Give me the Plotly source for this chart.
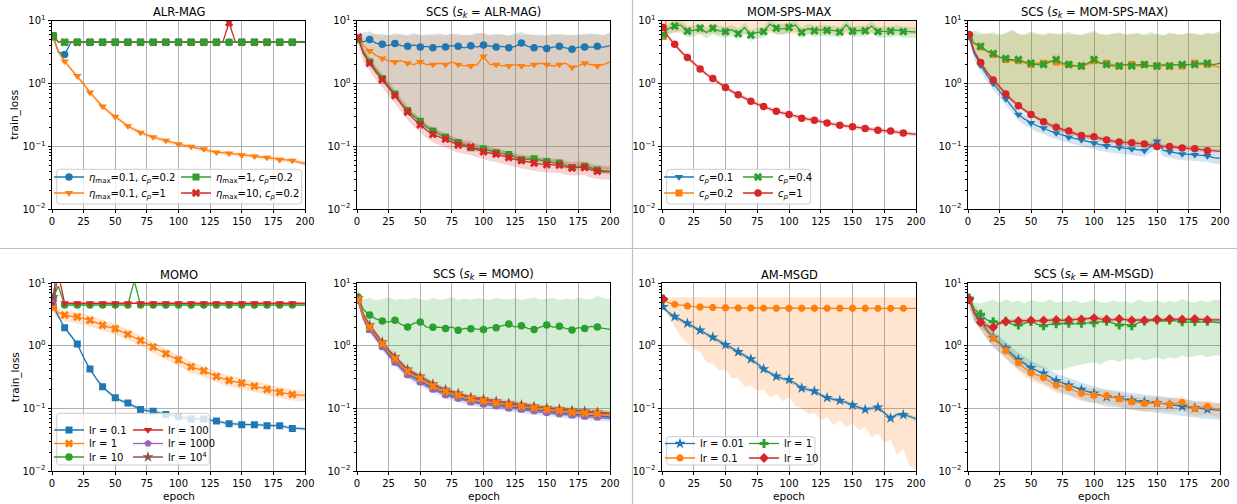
import plotly.graph_objects as go

# ---------------------------------------------------------------- data
EPOCHS = [1] + list(range(5, 201, 5))

# ALR-MAG
ALR_A = [5.5, 3.2, 2.9, 4.5, 4.55, 4.55, 4.55, 4.55, 4.55, 4.55, 4.55,
         4.55, 4.55, 4.55, 4.55, 4.55, 4.55, 4.55, 4.55, 4.55, 4.55,
         4.55, 4.55, 4.55, 4.55, 4.55, 4.55, 4.55, 4.55, 4.55, 4.55,
         4.55, 4.55, 4.55, 4.55, 4.55, 4.55, 4.55, 4.55, 4.55, 4.55]
ALR_B = [5.5, 3.2, 2.25, 1.7, 1.32, 0.98, 0.72, 0.55, 0.43, 0.35, 0.296,
         0.25, 0.21, 0.185, 0.165, 0.15, 0.14, 0.13, 0.123, 0.115, 0.108,
         0.103, 0.099, 0.094, 0.09, 0.085, 0.08, 0.079, 0.077, 0.074, 0.072,
         0.071, 0.069, 0.067, 0.066, 0.063, 0.061, 0.06, 0.059, 0.056, 0.053]
ALR_C = [5.8, 4.55, 4.55, 4.55, 4.55, 4.55, 4.55, 4.55, 4.55, 4.55, 4.55,
         4.55, 4.55, 4.55, 4.55, 4.55, 4.55, 4.55, 4.55, 4.55, 4.55,
         4.55, 4.55, 4.55, 4.55, 4.55, 4.55, 4.55, 4.55, 4.55, 4.55,
         4.55, 4.55, 4.55, 4.55, 4.55, 4.55, 4.55, 4.55, 4.55, 4.55]
ALR_D = [5.6, 4.6, 4.55, 4.55, 4.55, 4.55, 4.55, 4.55, 4.55, 4.55, 4.55,
         4.55, 4.55, 4.55, 4.55, 4.55, 4.55, 4.55, 4.55, 4.55, 4.55,
         4.55, 4.55, 4.55, 4.55, 4.55, 4.55, 4.55, 9.3, 4.55, 4.55,
         4.55, 4.55, 4.55, 4.55, 4.55, 4.55, 4.55, 4.55, 4.65, 4.65]

# SCS (s_k = ALR-MAG)
SCS1_A = [5.0, 4.6, 5.0, 4.4, 4.2, 4.0, 4.35, 4.0, 3.9, 4.1, 3.8,
          3.9, 3.7, 3.9, 3.8, 4.0, 3.9, 3.7, 4.0, 3.8, 4.1,
          3.9, 3.8, 3.9, 3.7, 3.9, 4.4, 3.9, 3.7, 3.9, 3.6,
          3.8, 3.9, 3.7, 3.5, 3.8, 3.8, 3.9, 3.9, 3.8, 4.0]
SCS1_A_HI = [5.5, 6.5, 6.8, 6.0, 6.2, 5.8, 6.3, 6.0, 5.9, 6.4, 5.8,
             6.1, 6.0, 6.3, 5.9, 6.1, 6.2, 5.8, 6.0, 6.4, 6.1,
             5.9, 6.2, 6.0, 5.8, 6.3, 6.6, 6.0, 5.9, 6.1, 5.7,
             6.0, 6.2, 5.9, 5.8, 6.1, 6.0, 6.3, 6.1, 5.9, 6.4]
SCS1_A_LO = [4.5, 3.0, 2.2, 1.6, 1.2, 0.9, 0.68, 0.5, 0.38, 0.3, 0.25,
             0.2, 0.17, 0.15, 0.135, 0.12, 0.11, 0.1, 0.095, 0.09, 0.088,
             0.082, 0.078, 0.075, 0.072, 0.068, 0.064, 0.062, 0.06, 0.058, 0.056,
             0.054, 0.053, 0.051, 0.049, 0.048, 0.047, 0.046, 0.045, 0.044, 0.043]
SCS1_B = [5.6, 4.0, 3.3, 2.8, 2.5, 2.3, 2.2, 2.3, 2.1, 2.0, 2.2,
          2.0, 2.0, 2.1, 2.0, 2.2, 2.0, 1.9, 1.9, 2.0, 2.7,
          2.0, 2.0, 1.9, 1.9, 2.0, 1.9, 1.9, 2.0, 2.1, 2.0,
          1.9, 2.0, 2.1, 1.8, 1.9, 2.1, 2.0, 1.9, 2.0, 2.2]
SCS1_B_HI = [5.8, 5.5, 5.9, 6.2, 5.7, 6.0, 5.8, 6.1, 5.6, 5.9, 6.0,
             5.7, 6.1, 5.8, 5.9, 6.3, 5.7, 6.0, 5.8, 6.1, 6.5,
             5.8, 5.9, 6.0, 5.7, 6.0, 5.8, 6.1, 5.9, 5.7, 6.0,
             6.2, 5.8, 5.9, 6.1, 5.7, 6.2, 5.9, 6.0, 5.8, 6.6]
SCS1_B_LO = [4.6, 3.1, 2.2, 1.6, 1.15, 0.85, 0.65, 0.48, 0.37, 0.29, 0.24,
             0.2, 0.17, 0.15, 0.13, 0.12, 0.11, 0.1, 0.094, 0.09, 0.086,
             0.08, 0.077, 0.074, 0.07, 0.066, 0.063, 0.061, 0.059, 0.057, 0.055,
             0.053, 0.052, 0.05, 0.048, 0.047, 0.046, 0.045, 0.044, 0.043, 0.042]
SCS1_C = [5.0, 3.2, 2.2, 1.6, 1.2, 0.9, 0.68, 0.48, 0.37, 0.3, 0.25,
          0.2, 0.175, 0.155, 0.14, 0.125, 0.115, 0.105, 0.095, 0.092, 0.091,
          0.085, 0.079, 0.076, 0.074, 0.067, 0.061, 0.062, 0.063, 0.06, 0.057,
          0.055, 0.054, 0.05, 0.046, 0.047, 0.048, 0.045, 0.042, 0.041, 0.04]
SCS1_D = [5.5, 3.0, 2.1, 1.5, 1.15, 0.85, 0.64, 0.47, 0.35, 0.27, 0.22,
          0.18, 0.155, 0.14, 0.13, 0.115, 0.105, 0.1, 0.097, 0.088, 0.082,
          0.078, 0.075, 0.07, 0.066, 0.062, 0.059, 0.056, 0.054, 0.052, 0.051,
          0.05, 0.05, 0.047, 0.045, 0.046, 0.046, 0.042, 0.04, 0.039, 0.039]

# MOM-SPS-MAX
MSM_A = [5.6]
MSM_B = [5.6, 15.0, 16.0, 14.5, 15.5, 16.0, 15.0, 14.0, 15.5, 16.5, 15.0,
         14.5, 15.5, 16.0, 15.0, 14.5, 15.5, 15.0, 16.0, 14.5, 15.0,
         15.5, 16.0, 15.0, 14.5, 15.5, 15.0, 16.0, 15.5, 14.5, 15.0,
         15.5, 15.0, 16.0, 14.5, 15.0, 15.5, 15.0, 16.0, 15.5, 15.0]
MSM_B_HI = [12.0, 30.0, 30.0, 30.0, 30.0, 30.0, 30.0, 30.0, 30.0, 30.0, 30.0,
            30.0, 30.0, 30.0, 30.0, 30.0, 30.0, 30.0, 30.0, 30.0, 30.0,
            30.0, 30.0, 30.0, 30.0, 30.0, 30.0, 30.0, 30.0, 30.0, 30.0,
            30.0, 30.0, 30.0, 30.0, 30.0, 30.0, 30.0, 30.0, 30.0, 30.0]
MSM_B_LO = [5.6, 6.2, 6.5, 6.3, 6.0, 6.4, 6.2, 6.1, 6.3, 6.0, 6.2,
            6.4, 6.1, 6.0, 6.3, 6.2, 6.1, 6.4, 6.0, 6.2, 6.3,
            6.1, 6.0, 6.2, 6.4, 6.1, 6.3, 6.0, 6.2, 6.1, 6.0,
            6.3, 6.2, 6.1, 6.4, 6.0, 6.2, 6.1, 6.3, 6.2, 6.1]
MSM_C = [6.0, 7.5, 8.2, 8.5, 6.8, 7.0, 7.6, 6.5, 7.6, 6.9, 6.7,
         7.2, 6.2, 7.8, 5.9, 6.5, 6.7, 8.8, 7.6, 7.4, 7.8,
         8.5, 6.5, 7.5, 6.9, 7.2, 7.0, 7.0, 6.6, 8.6, 6.8,
         7.0, 6.9, 8.2, 6.7, 6.8, 6.8, 7.1, 6.7, 6.7, 6.6]
MSM_D = [7.8, 5.5, 4.2, 3.2, 2.6, 2.1, 1.7, 1.4, 1.2, 1.0, 0.86,
         0.75, 0.66, 0.58, 0.52, 0.47, 0.43, 0.39, 0.36, 0.34, 0.32,
         0.3, 0.28, 0.27, 0.26, 0.245, 0.235, 0.225, 0.215, 0.21, 0.205,
         0.198, 0.192, 0.186, 0.18, 0.178, 0.175, 0.168, 0.163, 0.158, 0.155]

# SCS (s_k = MOM-SPS-MAX)
SCS2_A = [5.5, 3.0, 1.95, 1.35, 1.0, 0.75, 0.57, 0.42, 0.32, 0.27, 0.235,
          0.21, 0.195, 0.175, 0.162, 0.15, 0.139, 0.132, 0.126, 0.118, 0.112,
          0.106, 0.101, 0.098, 0.096, 0.093, 0.09, 0.087, 0.085, 0.098, 0.119,
          0.086, 0.082, 0.078, 0.075, 0.074, 0.073, 0.071, 0.07, 0.066, 0.064]
SCS2_B = [5.8, 4.3, 3.8, 3.2, 2.9, 2.6, 2.4, 2.3, 2.3, 2.1, 2.0,
          2.1, 2.1, 2.3, 2.2, 2.0, 2.0, 1.9, 1.9, 2.0, 2.3,
          2.1, 2.1, 2.0, 1.9, 2.0, 2.0, 1.9, 2.0, 1.9, 1.9,
          1.9, 1.9, 2.0, 1.9, 2.0, 2.1, 2.0, 2.0, 1.9, 1.8]
SCS2_B_HI = [6.0, 6.3, 5.8, 6.4, 6.0, 5.7, 6.2, 6.8, 6.1, 5.9, 6.3,
             6.0, 5.8, 6.2, 6.4, 5.9, 6.1, 6.0, 5.7, 6.2, 6.5,
             6.0, 5.8, 6.1, 6.3, 5.9, 6.0, 6.2, 5.8, 6.1, 6.0,
             5.7, 6.2, 6.0, 5.9, 6.3, 6.1, 5.8, 6.2, 6.0, 6.6]
SCS2_B_LO = [5.0, 2.9, 2.0, 1.4, 1.05, 0.8, 0.62, 0.5, 0.41, 0.34, 0.29,
             0.25, 0.22, 0.2, 0.18, 0.168, 0.158, 0.148, 0.138, 0.132, 0.127,
             0.122, 0.117, 0.112, 0.108, 0.106, 0.104, 0.102, 0.1, 0.098, 0.096,
             0.094, 0.093, 0.091, 0.09, 0.089, 0.088, 0.087, 0.086, 0.085, 0.084]
SCS2_C = [5.5, 4.4, 3.9, 3.3, 3.0, 2.6, 2.5, 2.4, 2.4, 2.2, 2.1,
          2.0, 2.0, 2.2, 2.4, 2.1, 2.0, 1.9, 1.9, 2.1, 2.4,
          2.1, 2.0, 1.9, 1.9, 2.0, 1.9, 2.0, 2.0, 1.9, 1.9,
          2.0, 1.9, 2.0, 2.0, 2.0, 2.0, 2.1, 2.1, 2.0, 2.1]
SCS2_C_HI = [6.2, 7.0, 6.5, 6.1, 6.6, 6.0, 6.4, 7.3, 6.2, 6.0, 6.8,
             6.2, 6.1, 6.5, 6.0, 6.3, 6.6, 6.1, 6.0, 6.4, 6.9,
             6.2, 6.0, 6.3, 6.5, 6.1, 6.2, 6.4, 6.0, 6.6, 6.2,
             5.9, 6.5, 6.1, 6.0, 6.4, 6.3, 6.0, 6.5, 6.2, 7.0]
SCS2_C_LO = [5.1, 3.0, 2.05, 1.45, 1.08, 0.82, 0.64, 0.51, 0.42, 0.35, 0.3,
             0.26, 0.23, 0.205, 0.185, 0.17, 0.16, 0.15, 0.14, 0.134, 0.128,
             0.123, 0.118, 0.113, 0.11, 0.107, 0.105, 0.103, 0.101, 0.099, 0.097,
             0.095, 0.094, 0.092, 0.091, 0.09, 0.089, 0.088, 0.087, 0.086, 0.085]
SCS2_D = [6.0, 3.2, 2.15, 1.5, 1.14, 0.88, 0.68, 0.54, 0.44, 0.37, 0.32,
          0.28, 0.245, 0.22, 0.2, 0.185, 0.175, 0.16, 0.148, 0.145, 0.142,
          0.133, 0.126, 0.121, 0.117, 0.115, 0.114, 0.111, 0.109, 0.104, 0.099,
          0.099, 0.099, 0.096, 0.094, 0.092, 0.091, 0.088, 0.085, 0.084, 0.083]

# MOMO
MOMO_A = [4.2, 3.0, 1.95, 1.45, 1.07, 0.65, 0.425, 0.3, 0.222, 0.18, 0.148,
          0.132, 0.122, 0.108, 0.096, 0.092, 0.09, 0.085, 0.08, 0.077, 0.074,
          0.071, 0.068, 0.068, 0.068, 0.065, 0.063, 0.06, 0.057, 0.056, 0.055,
          0.055, 0.055, 0.054, 0.053, 0.053, 0.053, 0.05, 0.048, 0.048, 0.047]
MOMO_B = [4.0, 3.4, 3.1, 3.0, 2.9, 2.75, 2.56, 2.35, 2.13, 2.0, 1.88,
          1.7, 1.53, 1.38, 1.22, 1.08, 0.96, 0.85, 0.75, 0.67, 0.6,
          0.53, 0.463, 0.43, 0.4, 0.36, 0.325, 0.3, 0.28, 0.265, 0.254,
          0.24, 0.227, 0.213, 0.201, 0.19, 0.182, 0.174, 0.167, 0.165, 0.162]
MOMO_C = [6.0, 9.0, 4.5, 4.5, 4.5, 4.5, 4.5, 4.5, 4.5, 4.5, 4.5,
          4.5, 4.5, 11.0, 4.5, 4.5, 4.5, 4.5, 4.5, 4.5, 4.5,
          4.5, 4.5, 4.5, 4.5, 4.5, 4.5, 4.5, 4.5, 4.5, 4.5,
          4.5, 4.5, 4.5, 4.5, 4.5, 4.5, 4.5, 4.5, 4.5, 4.5]
MOMO_D = [5.0, 14.0, 4.8, 4.8, 4.8, 4.8, 4.8, 4.8, 4.8, 4.8, 4.8,
          4.8, 4.8, 4.8, 4.8, 4.8, 4.8, 4.8, 4.8, 4.8, 4.8,
          4.8, 4.8, 4.8, 4.8, 4.8, 4.8, 4.8, 4.8, 4.8, 4.8,
          4.8, 4.8, 4.8, 4.8, 4.8, 4.8, 4.8, 4.8, 4.8, 4.8]
MOMO_E = [5.5, 30.0]
MOMO_F = [6.0, 25.0]

# SCS (s_k = MOMO)
SCS3_A = [5.3, 2.8, 1.85, 1.35, 1.0, 0.74, 0.57, 0.44, 0.36, 0.31, 0.275,
          0.24, 0.21, 0.19, 0.172, 0.16, 0.151, 0.14, 0.131, 0.126, 0.122,
          0.118, 0.114, 0.109, 0.105, 0.102, 0.1, 0.097, 0.095, 0.092, 0.089,
          0.087, 0.085, 0.083, 0.081, 0.079, 0.078, 0.077, 0.076, 0.074, 0.073]
SCS3_B = [5.5, 3.0, 2.0, 1.45, 1.08, 0.8, 0.62, 0.48, 0.39, 0.34, 0.3,
          0.26, 0.227, 0.205, 0.185, 0.172, 0.163, 0.15, 0.141, 0.136, 0.132,
          0.127, 0.123, 0.118, 0.113, 0.11, 0.108, 0.105, 0.102, 0.099, 0.096,
          0.094, 0.092, 0.09, 0.087, 0.085, 0.084, 0.083, 0.082, 0.08, 0.079]
SCS3_C = [6.0, 3.8, 3.1, 2.7, 2.5, 2.4, 2.56, 2.2, 2.0, 2.3, 2.4,
          2.0, 1.98, 2.0, 1.9, 2.0, 1.77, 1.9, 1.88, 1.85, 1.82,
          1.95, 1.95, 2.1, 2.23, 2.0, 2.1, 1.9, 1.82, 2.0, 2.16,
          2.0, 2.05, 1.9, 1.8, 1.95, 1.9, 2.05, 2.0, 1.9, 1.84]
SCS3_C_HI = [8.0, 5.5, 5.8, 5.3, 5.6, 6.0, 5.4, 5.7, 5.5, 5.9, 5.6,
             5.3, 5.8, 5.5, 5.6, 6.1, 5.4, 5.7, 5.5, 5.8, 5.6,
             5.4, 5.9, 5.6, 5.5, 5.8, 5.4, 5.7, 6.0, 5.5, 5.6,
             5.8, 5.4, 5.7, 5.5, 5.9, 5.6, 5.5, 6.2, 5.7, 5.6]
SCS3_C_LO = [5.0, 3.1, 2.1, 1.5, 1.12, 0.84, 0.66, 0.51, 0.42, 0.36, 0.32,
             0.28, 0.245, 0.22, 0.2, 0.185, 0.176, 0.163, 0.153, 0.147, 0.142,
             0.137, 0.132, 0.127, 0.122, 0.118, 0.115, 0.112, 0.109, 0.106, 0.103,
             0.1, 0.098, 0.096, 0.093, 0.092, 0.091, 0.09, 0.089, 0.087, 0.086]
SCS3_D = [5.6, 3.1, 2.05, 1.48, 1.1, 0.82, 0.63, 0.49, 0.4, 0.35, 0.31,
          0.27, 0.232, 0.21, 0.19, 0.176, 0.166, 0.153, 0.144, 0.139, 0.135,
          0.13, 0.126, 0.12, 0.116, 0.112, 0.11, 0.107, 0.104, 0.101, 0.098,
          0.096, 0.094, 0.092, 0.089, 0.087, 0.086, 0.085, 0.084, 0.082, 0.081]
SCS3_E = [5.2, 2.7, 1.8, 1.3, 0.95, 0.7, 0.54, 0.42, 0.34, 0.29, 0.26,
          0.225, 0.2, 0.18, 0.163, 0.152, 0.143, 0.133, 0.125, 0.12, 0.116,
          0.112, 0.108, 0.104, 0.1, 0.097, 0.095, 0.092, 0.09, 0.087, 0.085,
          0.083, 0.081, 0.079, 0.077, 0.075, 0.074, 0.073, 0.072, 0.07, 0.069]
SCS3_F = [5.8, 3.2, 2.15, 1.55, 1.15, 0.86, 0.67, 0.52, 0.42, 0.37, 0.325,
          0.285, 0.245, 0.22, 0.2, 0.185, 0.174, 0.161, 0.151, 0.146, 0.141,
          0.136, 0.131, 0.126, 0.121, 0.117, 0.114, 0.111, 0.108, 0.105, 0.102,
          0.1, 0.098, 0.096, 0.093, 0.091, 0.09, 0.089, 0.087, 0.085, 0.084]

# AM-MSGD
AM_A = [4.2, 3.4, 2.93, 2.6, 2.29, 2.0, 1.77, 1.55, 1.37, 1.2, 1.04,
        0.92, 0.8, 0.7, 0.615, 0.52, 0.426, 0.37, 0.325, 0.3, 0.287,
        0.25, 0.211, 0.2, 0.189, 0.165, 0.148, 0.14, 0.134, 0.125, 0.113,
        0.105, 0.096, 0.1, 0.104, 0.085, 0.07, 0.08, 0.079, 0.075, 0.068]
AM_B = [5.5, 4.9, 4.6, 4.45, 4.34, 4.25, 4.18, 4.13, 4.1, 4.08, 4.06,
        4.05, 4.04, 4.03, 4.02, 4.02, 4.01, 4.0, 4.0, 4.0, 4.0,
        3.99, 3.99, 3.99, 3.99, 3.98, 3.98, 3.98, 3.98, 3.98, 3.98,
        3.98, 3.98, 3.97, 3.97, 3.97, 3.97, 3.97, 3.97, 3.97, 3.97]
AM_B_HI = [5.8, 5.95, 5.97, 5.97, 5.97, 5.97, 5.97, 5.97, 5.97, 5.97, 5.97,
           5.97, 5.97, 5.97, 5.97, 5.97, 5.97, 5.97, 5.97, 5.97, 5.97,
           5.97, 5.97, 5.97, 5.97, 5.97, 5.97, 5.97, 5.97, 5.97, 5.97,
           5.97, 5.97, 5.97, 5.97, 5.97, 5.97, 5.97, 5.97, 5.97, 5.97]
AM_B_LO = [5.0, 3.0, 2.0, 1.4, 1.1, 0.9, 0.8, 0.55, 0.52, 0.4, 0.42,
           0.3, 0.31, 0.22, 0.23, 0.19, 0.2, 0.15, 0.17, 0.13, 0.15,
           0.11, 0.1, 0.08, 0.085, 0.065, 0.072, 0.055, 0.065, 0.05, 0.058,
           0.045, 0.05, 0.035, 0.04, 0.028, 0.032, 0.018, 0.022, 0.012, 0.0105]
AM_C = [5.6]
AM_D = [5.6]

# SCS (s_k = AM-MSGD)
SCS4_A = [5.5, 3.5, 2.6, 1.8, 1.35, 1.1, 0.91, 0.72, 0.6, 0.52, 0.447,
          0.4, 0.363, 0.32, 0.277, 0.255, 0.235, 0.215, 0.2, 0.185, 0.174,
          0.163, 0.153, 0.15, 0.148, 0.14, 0.135, 0.131, 0.128, 0.125, 0.123,
          0.119, 0.115, 0.111, 0.107, 0.104, 0.102, 0.099, 0.097, 0.095, 0.093]
SCS4_B = [5.5, 3.4, 2.34, 1.7, 1.32, 1.05, 0.836, 0.65, 0.537, 0.44, 0.37,
          0.34, 0.313, 0.27, 0.236, 0.225, 0.214, 0.19, 0.174, 0.168, 0.162,
          0.16, 0.16, 0.15, 0.143, 0.135, 0.128, 0.124, 0.12, 0.121, 0.122,
          0.119, 0.117, 0.12, 0.125, 0.11, 0.1, 0.104, 0.107, 0.1, 0.095]
SCS4_C = [5.8, 3.8, 3.2, 2.6, 2.43, 2.3, 2.47, 2.2, 2.15, 2.3, 2.45,
          2.2, 2.1, 2.2, 2.25, 2.3, 2.3, 2.25, 2.3, 2.35, 2.34,
          2.4, 2.47, 2.3, 2.15, 2.2, 2.1, 2.3, 2.5, 2.55, 2.6,
          2.5, 2.6, 2.5, 2.43, 2.4, 2.45, 2.4, 2.47, 2.4, 2.34]
SCS4_C_HI = [6.0, 5.0, 4.8, 5.2, 5.5, 4.9, 5.6, 5.0, 5.3, 4.8, 5.4,
             5.1, 5.0, 5.6, 4.9, 5.2, 5.0, 5.4, 4.8, 5.1, 5.5,
             5.0, 4.9, 5.3, 5.0, 5.2, 4.8, 5.5, 5.1, 5.0, 5.4,
             4.9, 5.2, 5.0, 5.6, 5.1, 4.9, 5.3, 5.0, 5.4, 5.5]
SCS4_C_LO = [5.0, 2.5, 2.0, 1.6, 1.3, 1.0, 0.8, 0.65, 0.55, 0.5, 0.47,
             0.45, 0.43, 0.42, 0.4, 0.42, 0.45, 0.48, 0.5, 0.52, 0.55,
             0.5, 0.58, 0.6, 0.55, 0.62, 0.6, 0.65, 0.58, 0.62, 0.65,
             0.6, 0.66, 0.63, 0.7, 0.65, 0.68, 0.72, 0.66, 0.7, 0.7]
SCS4_D = [5.5, 3.3, 2.38, 2.1, 1.98, 2.3, 2.43, 2.45, 2.5, 2.5, 2.55,
          2.5, 2.55, 2.6, 2.6, 2.55, 2.6, 2.6, 2.65, 2.7, 2.78,
          2.7, 2.65, 2.6, 2.7, 2.6, 2.55, 2.6, 2.55, 2.6, 2.65,
          2.6, 2.7, 2.65, 2.65, 2.7, 2.7, 2.65, 2.6, 2.6, 2.6]

TITLES = ["ALR-MAG", "SCS (<i>s</i><sub><i>k</i></sub> = ALR-MAG)",
          "MOM-SPS-MAX", "SCS (<i>s</i><sub><i>k</i></sub> = MOM-SPS-MAX)",
          "MOMO", "SCS (<i>s</i><sub><i>k</i></sub> = MOMO)",
          "AM-MSGD", "SCS (<i>s</i><sub><i>k</i></sub> = AM-MSGD)"]

ALR_LABELS = ["<i>η</i><sub>max</sub>=0.1, <i>c</i><sub><i>p</i></sub>=0.2",
              "<i>η</i><sub>max</sub>=0.1, <i>c</i><sub><i>p</i></sub>=1",
              "<i>η</i><sub>max</sub>=1, <i>c</i><sub><i>p</i></sub>=0.2",
              "<i>η</i><sub>max</sub>=10, <i>c</i><sub><i>p</i></sub>=0.2"]
MSM_LABELS = ["<i>c</i><sub><i>p</i></sub>=0.1", "<i>c</i><sub><i>p</i></sub>=0.2",
              "<i>c</i><sub><i>p</i></sub>=0.4", "<i>c</i><sub><i>p</i></sub>=1"]
MOMO_LABELS = ["lr = 0.1", "lr = 1", "lr = 10", "lr = 100", "lr = 1000", "lr = 10<sup>4</sup>"]
AM_LABELS = ["lr = 0.01", "lr = 0.1", "lr = 1", "lr = 10"]

X_TICKS = [0, 25, 50, 75, 100, 125, 150, 175, 200]
Y_TICKS = [0.01, 0.1, 1, 10]
Y_TICK_TEXT = ["10<sup>−2</sup>", "10<sup>−1</sup>", "10<sup>0</sup>", "10<sup>1</sup>"]

# ---------------------------------------------------------------- styling
W, H = 1237, 504
FONT = "DejaVu Sans"
C0, C1, C2, C3, C4, C5 = "#1f77b4", "#ff7f0e", "#2ca02c", "#d62728", "#9467bd", "#8c564b"
COL_PX = [(52, 305), (357, 610), (662, 916), (968, 1220)]
ROW_PX = [(20.7, 209.0), (283.3, 471.0)]


def px_x(p):
    return p / W


def px_y(p):
    return 1 - p / H


def rgba(hex_color, a):
    h = hex_color.lstrip("#")
    r, g, b = int(h[0:2], 16), int(h[2:4], 16), int(h[4:6], 16)
    return f"rgba({r},{g},{b},{a})"


def S(values, color, symbol, label=None, spread=None, lo=None, hi=None, slot=None, size=7.5):
    return dict(values=values, color=color, symbol=symbol, label=label,
                spread=spread, lo=lo, hi=hi, slot=slot, size=size)


# Each panel: series in drawing order, legend column marker x (px), legend row y (px), frame box
PANELS = [
    dict(series=[S(ALR_A, C0, "circle", ALR_LABELS[0], spread=0.03, slot=(0, 0)),
                 S(ALR_B, C1, "triangle-down", ALR_LABELS[1], spread=0.08, slot=(0, 1)),
                 S(ALR_D, C3, "x", ALR_LABELS[3], spread=0.03, slot=(1, 1)),
                 S(ALR_C, C2, "square", ALR_LABELS[2], spread=0.03, slot=(1, 0), size=7)],
         leg_cols=[69, 196], leg_rows=[177, 193], frame=(56.7, 169.3, 301.7, 204)),
    dict(series=[S(SCS1_A, C0, "circle", lo=SCS1_A_LO, hi=SCS1_A_HI),
                 S(SCS1_B, C1, "triangle-down", lo=SCS1_B_LO, hi=SCS1_B_HI),
                 S(SCS1_C, C2, "square", spread=0.12, size=7),
                 S(SCS1_D, C3, "x", spread=0.25)]),
    dict(series=[S(MSM_A, C0, "triangle-down", MSM_LABELS[0], slot=(0, 0)),
                 S(MSM_B, C1, "square", MSM_LABELS[1], lo=MSM_B_LO, hi=MSM_B_HI, slot=(0, 1), size=7),
                 S(MSM_C, C2, "x", MSM_LABELS[2], spread=0.2, slot=(1, 0)),
                 S(MSM_D, C3, "circle", MSM_LABELS[3], spread=0.08, slot=(1, 1))],
         leg_cols=[679, 758], leg_rows=[177, 193], frame=(666.7, 169.3, 810.7, 204)),
    dict(series=[S(SCS2_A, C0, "triangle-down", spread=0.2),
                 S(SCS2_B, C1, "square", lo=SCS2_B_LO, hi=SCS2_B_HI, size=7),
                 S(SCS2_C, C2, "x", lo=SCS2_C_LO, hi=SCS2_C_HI),
                 S(SCS2_D, C3, "circle", spread=0.08)]),
    dict(series=[S(MOMO_A, C0, "square", MOMO_LABELS[0], spread=0.06, slot=(0, 0), size=7),
                 S(MOMO_B, C1, "x", MOMO_LABELS[1], spread=0.2, slot=(0, 1)),
                 S(MOMO_C, C2, "circle", MOMO_LABELS[2], spread=0.03, slot=(0, 2)),
                 S(MOMO_D, C3, "triangle-down", MOMO_LABELS[3], spread=0.03, slot=(1, 0)),
                 S(MOMO_E, C4, "pentagon", MOMO_LABELS[4], slot=(1, 1)),
                 S(MOMO_F, C5, "star", MOMO_LABELS[5], slot=(1, 2), size=8.5)],
         leg_cols=[69, 148], leg_rows=[430, 443.5, 457], frame=(56.7, 413.3, 209.3, 465)),
    dict(series=[S(SCS3_A, C0, "square", spread=0.1, size=7),
                 S(SCS3_C, C2, "circle", lo=SCS3_C_LO, hi=SCS3_C_HI),
                 S(SCS3_E, C4, "pentagon", spread=0.12),
                 S(SCS3_F, C5, "star", spread=0.1, size=8.5),
                 S(SCS3_D, C3, "triangle-down", spread=0.1),
                 S(SCS3_B, C1, "x", spread=0.1)]),
    dict(series=[S(AM_A, C0, "star", AM_LABELS[0], spread=0.08, slot=(0, 0), size=8.5),
                 S(AM_B, C1, "octagon", AM_LABELS[1], lo=AM_B_LO, hi=AM_B_HI, slot=(0, 1)),
                 S(AM_C, C2, "cross", AM_LABELS[2], slot=(1, 0)),
                 S(AM_D, C3, "diamond", AM_LABELS[3], slot=(1, 1))],
         leg_cols=[680, 764], leg_rows=[443.5, 458], frame=(666.7, 436.7, 815, 465)),
    dict(series=[S(SCS4_A, C0, "star", spread=0.3, size=8.5),
                 S(SCS4_B, C1, "octagon", spread=0.25),
                 S(SCS4_C, C2, "cross", lo=SCS4_C_LO, hi=SCS4_C_HI),
                 S(SCS4_D, C3, "diamond", spread=0.08)]),
]


def marker_colors(xs, color):
    return [color if (e == 1 or (e % 10 == 0 and e < 200)) else "rgba(0,0,0,0)" for e in xs]


fig = go.Figure()
layout = dict(width=W, height=H, margin=dict(l=0, r=0, t=0, b=0, autoexpand=False),
              plot_bgcolor="white", paper_bgcolor="white",
              font=dict(family=FONT, size=10, color="black"),
              hovermode=False, showlegend=True)
annotations, shapes = [], []
legend_count = 0

for i, panel in enumerate(PANELS):
    row, col = divmod(i, 4)
    sfx = "" if i == 0 else str(i + 1)
    xa, ya = "x" + sfx, "y" + sfx
    x0, x1 = COL_PX[col]
    y0, y1 = ROW_PX[row]

    # shaded spread bands
    for s in panel["series"]:
        vals = s["values"]
        xs = EPOCHS[:len(vals)]
        if s["lo"] is not None:
            lo, hi = s["lo"], s["hi"]
        elif s["spread"] is not None:
            lo = [v * (1 - s["spread"]) for v in vals]
            hi = [v * (1 + s["spread"]) for v in vals]
        else:
            continue
        fig.add_trace(go.Scatter(x=xs, y=lo, mode="lines", line=dict(width=0, color=s["color"]),
                                 showlegend=False, xaxis=xa, yaxis=ya, hoverinfo="skip"))
        fig.add_trace(go.Scatter(x=xs, y=hi, mode="lines", line=dict(width=0, color=s["color"]),
                                 fill="tonexty", fillcolor=rgba(s["color"], 0.2),
                                 showlegend=False, xaxis=xa, yaxis=ya, hoverinfo="skip"))

    # mean curves with a marker every 10 epochs
    for s in panel["series"]:
        vals = s["values"]
        xs = EPOCHS[:len(vals)]
        if s["slot"] is not None:
            legend_count += 1
            lid = "legend" if legend_count == 1 else f"legend{legend_count}"
            c, r = s["slot"]
            layout[lid] = dict(x=px_x(panel["leg_cols"][c] - 20), y=px_y(panel["leg_rows"][r]),
                               xanchor="left", yanchor="middle", bgcolor="rgba(0,0,0,0)",
                               borderwidth=0, itemwidth=30, tracegroupgap=0,
                               font=dict(family=FONT, size=10, color="black"))
            kw = dict(name=s["label"], legend=lid, showlegend=True)
        else:
            kw = dict(showlegend=False)
        fig.add_trace(go.Scatter(
            x=xs, y=vals, mode="lines+markers", xaxis=xa, yaxis=ya,
            line=dict(color=s["color"], width=1.3),
            marker=dict(symbol=s["symbol"], size=s["size"], color=marker_colors(xs, s["color"]),
                        line=dict(width=0)),
            **kw))

    layout["xaxis" + sfx] = dict(
        domain=[px_x(x0), px_x(x1)], anchor=ya, range=[0, 200], automargin=False,
        tickvals=X_TICKS, ticks="outside", ticklen=3.5, tickwidth=0.8, tickcolor="black",
        showline=True, mirror=True, linecolor="black", linewidth=0.9,
        showgrid=True, gridcolor="#b0b0b0", gridwidth=0.8, zeroline=False,
        tickfont=dict(family=FONT, size=10, color="black"))
    layout["yaxis" + sfx] = dict(
        domain=[px_y(y1), px_y(y0)], anchor=xa, type="log", range=[-2, 1], automargin=False,
        tickvals=Y_TICKS, ticktext=Y_TICK_TEXT, ticks="outside", ticklen=3.5, tickwidth=0.8,
        tickcolor="black", showline=True, mirror=True, linecolor="black", linewidth=0.9,
        showgrid=True, gridcolor="#b0b0b0", gridwidth=0.8, zeroline=False,
        tickfont=dict(family=FONT, size=10, color="black"),
        minor=dict(tickvals=[m * 10 ** k for k in (-2, -1, 0) for m in range(2, 10)],
                   ticks="outside", ticklen=2, tickwidth=0.6, tickcolor="black", showgrid=False))

    annotations.append(dict(text=TITLES[i], x=px_x((x0 + x1) / 2), y=px_y(y0 - 8.5),
                            xref="paper", yref="paper", xanchor="center", yanchor="middle",
                            showarrow=False, font=dict(family=FONT, size=11.5, color="black")))
    if col == 0:
        annotations.append(dict(text="train_loss", x=px_x(15), y=px_y((y0 + y1) / 2),
                                xref="paper", yref="paper", xanchor="center", yanchor="middle",
                                textangle=-90, showarrow=False,
                                font=dict(family=FONT, size=10.5, color="black")))
    if row == 1:
        annotations.append(dict(text="epoch", x=px_x((x0 + x1) / 2), y=px_y(496),
                                xref="paper", yref="paper", xanchor="center", yanchor="middle",
                                showarrow=False, font=dict(family=FONT, size=10.5, color="black")))

    if "frame" in panel:
        fx0, fy0, fx1, fy1 = panel["frame"]
        r = 3.0

        def P(x, y):
            return f"{px_x(x):.6f},{px_y(y):.6f}"

        path = (f"M{P(fx0 + r, fy0)} L{P(fx1 - r, fy0)} Q{P(fx1, fy0)} {P(fx1, fy0 + r)} "
                f"L{P(fx1, fy1 - r)} Q{P(fx1, fy1)} {P(fx1 - r, fy1)} "
                f"L{P(fx0 + r, fy1)} Q{P(fx0, fy1)} {P(fx0, fy1 - r)} "
                f"L{P(fx0, fy0 + r)} Q{P(fx0, fy0)} {P(fx0 + r, fy0)} Z")
        shapes.append(dict(type="path", path=path, xref="paper", yref="paper", layer="above",
                           fillcolor="rgba(255,255,255,0.8)", line=dict(color="#cccccc", width=1)))

# separators between the four method groups
shapes.append(dict(type="line", xref="paper", yref="paper", x0=0, x1=1,
                   y0=px_y(248.5), y1=px_y(248.5), line=dict(color="#bfbfbf", width=1.2), layer="below"))
shapes.append(dict(type="line", xref="paper", yref="paper", x0=px_x(632.5), x1=px_x(632.5),
                   y0=0, y1=1, line=dict(color="#bfbfbf", width=1.2), layer="below"))

layout["annotations"] = annotations
layout["shapes"] = shapes
fig.update_layout(**layout)
fig.write_html("out.html")
